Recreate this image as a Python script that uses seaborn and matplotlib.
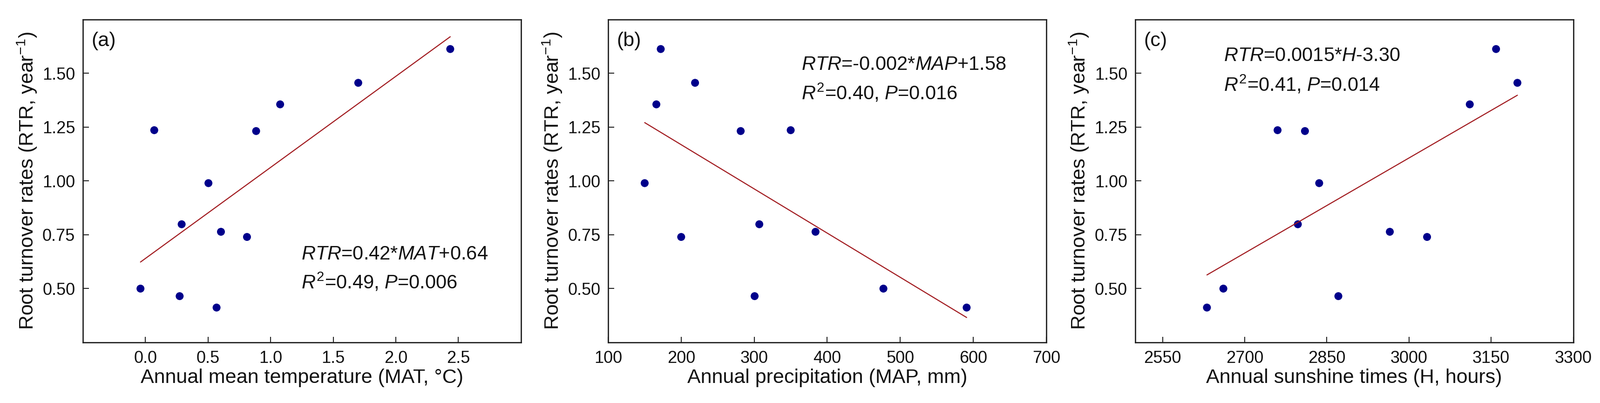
import numpy as np
import pandas as pd
import matplotlib
matplotlib.use("Agg")
import matplotlib.pyplot as plt
import seaborn as sns

# ---- data (12 sites, same order in every list) ----
rtr = [0.412, 0.465, 0.500, 0.740, 0.764, 0.799, 0.990, 1.232, 1.236, 1.356, 1.456, 1.613]
mat = [0.568, 0.273, -0.040, 0.811, 0.603, 0.289, 0.503, 0.884, 0.070, 1.076, 1.700, 2.435]
map_mm = [591, 300.6, 477, 200, 384, 307, 150, 281.5, 350, 166, 219, 172]
sun_h = [2631, 2871, 2661, 3033, 2965, 2797, 2836, 2810, 2760, 3111, 3198, 3159]

panel_tags = ["(a)", "(b)", "(c)"]
x_labels = ["Annual mean temperature (MAT, °C)",
            "Annual precipitation (MAP, mm)",
            "Annual sunshine times (H, hours)"]
eq_line1 = [r"$\mathit{RTR}$=0.42*$\mathit{MAT}$+0.64",
            r"$\mathit{RTR}$=-0.002*$\mathit{MAP}$+1.58",
            r"$\mathit{RTR}$=0.0015*$\mathit{H}$-3.30"]
eq_line2 = [r"$\mathit{R}^2$=0.49, $\mathit{P}$=0.006",
            r"$\mathit{R}^2$=0.40, $\mathit{P}$=0.016",
            r"$\mathit{R}^2$=0.41, $\mathit{P}$=0.014"]
x_limits = [(-0.5, 3.0), (100, 700), (2500, 3300)]
x_ticks = [[0.0, 0.5, 1.0, 1.5, 2.0, 2.5],
           [100, 200, 300, 400, 500, 600, 700],
           [2550, 2700, 2850, 3000, 3150, 3300]]
x_fmt = ["{:.1f}", "{:.0f}", "{:.0f}"]
y_ticks = [0.50, 0.75, 1.00, 1.25, 1.50]

df = pd.DataFrame({"RTR": rtr, "MAT": mat, "MAP": map_mm, "H": sun_h})
x_cols = ["MAT", "MAP", "H"]

sns.set_style("ticks")
plt.rcParams["font.family"] = ["Liberation Sans", "DejaVu Sans"]
plt.rcParams["mathtext.fontset"] = "custom"
plt.rcParams["mathtext.rm"] = "Liberation Sans"
plt.rcParams["mathtext.it"] = "Liberation Sans:italic"
plt.rcParams["mathtext.default"] = "regular"

fig = plt.figure(figsize=(34.37, 8.65), dpi=100)

# axes placement (figure fractions) and text anchors (axes fractions)
lefts = [0.0518, 0.3800, 0.7093]
eq_pos = [(0.499, 0.257, 0.166), (0.441, 0.844, 0.753), (0.202, 0.872, 0.779)]

for i, col in enumerate(x_cols):
    ax = fig.add_axes([lefts[i], 0.1503, 0.2737, 0.8012])
    sns.regplot(data=df, x=col, y="RTR", ax=ax, ci=None,
                scatter_kws={"s": 150, "color": "#00008B", "edgecolor": "none", "alpha": 1},
                line_kws={"color": "#A0171C", "linewidth": 1.6})

    ax.set_xlim(*x_limits[i])
    ax.set_ylim(0.25, 1.75)
    ax.set_xticks(x_ticks[i])
    ax.set_xticklabels([x_fmt[i].format(t) for t in x_ticks[i]])
    ax.set_yticks(y_ticks)
    ax.set_yticklabels([f"{t:.2f}" for t in y_ticks])
    ax.tick_params(direction="in", length=9, width=1.5, labelsize=26, pad=12,
                   color="#222222", labelcolor="#111111")

    for sp in ax.spines.values():
        sp.set_visible(True)
        sp.set_linewidth(2.0)
        sp.set_color("#222222")

    ax.set_xlabel(x_labels[i], fontsize=31, labelpad=3, color="#111111")
    ax.set_ylabel("Root turnover rates (RTR, year$^{-1}$)", fontsize=31,
                  labelpad=6, color="#111111")

    ax.text(0.02, 0.963, panel_tags[i], transform=ax.transAxes, fontsize=31,
            ha="left", va="top", color="#111111")
    ex, ey1, ey2 = eq_pos[i]
    ax.text(ex, ey1, eq_line1[i], transform=ax.transAxes, fontsize=30,
            ha="left", va="baseline", color="#111111")
    ax.text(ex, ey2, eq_line2[i], transform=ax.transAxes, fontsize=30,
            ha="left", va="baseline", color="#111111")

fig.savefig("out.png", dpi=100, facecolor="white")
